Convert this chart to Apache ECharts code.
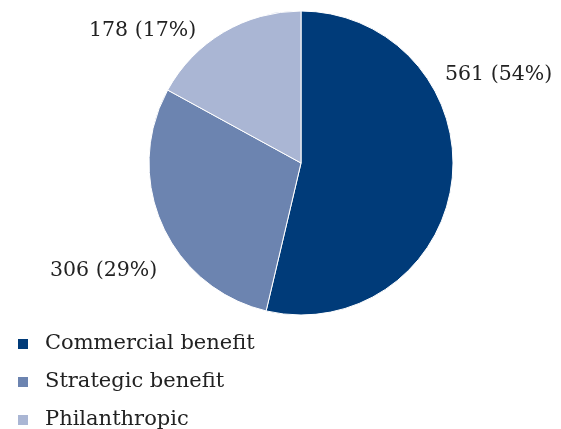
<!DOCTYPE html>
<html>
<head>
<meta charset="utf-8">
<script src="https://cdn.jsdelivr.net/npm/echarts@6/dist/echarts.min.js"></script>
<style>
  html, body { margin: 0; padding: 0; background: #fff; }
  #chart { width: 561px; height: 429px; }
</style>
</head>
<body>
<div id="chart"></div>
<script>
// Benefit categories and their respondent counts
const categories = ['Commercial benefit', 'Strategic benefit', 'Philanthropic'];
const counts = [561, 306, 178];
const colors = ['#003b79', '#6c84b0', '#aab6d4'];

// Where each slice's value label sits (pixel anchor, text alignment)
const labelSpots = [
  { x: 445, y: 75, align: 'left' },
  { x: 50, y: 271, align: 'left' },
  { x: 89, y: 31, align: 'left' }
];

const total = counts.reduce((a, b) => a + b, 0);
const serif = '"DejaVu Serif", "Liberation Serif", serif';

const chart = echarts.init(document.getElementById('chart'), null, { renderer: 'canvas' });
chart.setOption({
  animation: false,
  color: colors,
  legend: {
    orient: 'vertical',
    left: 11,
    top: 327,
    height: 110,
    itemWidth: 12,
    itemHeight: 12,
    itemGap: 14,
    icon: 'rect',
    textStyle: { fontFamily: serif, fontSize: 21, color: '#222', padding: [0, 0, 0, 11], lineHeight: 24 },
    data: categories
  },
  series: [{
    type: 'pie',
    center: [301, 163],
    radius: [0, 152],
    startAngle: 90,
    clockwise: true,
    itemStyle: { borderColor: '#fff', borderWidth: 1 },
    label: {
      show: true,
      fontFamily: serif,
      fontSize: 20.5,
      color: '#222',
      overflow: 'none',
      width: 200,
      formatter: p => p.value + ' (' + Math.round(p.value / total * 100) + '%)'
    },
    labelLine: { show: false },
    labelLayout: p => ({
      x: labelSpots[p.dataIndex].x,
      y: labelSpots[p.dataIndex].y,
      align: labelSpots[p.dataIndex].align,
      verticalAlign: 'middle'
    }),
    emphasis: { disabled: true },
    data: categories.map((name, i) => ({ name, value: counts[i] }))
  }]
});
</script>
</body>
</html>
